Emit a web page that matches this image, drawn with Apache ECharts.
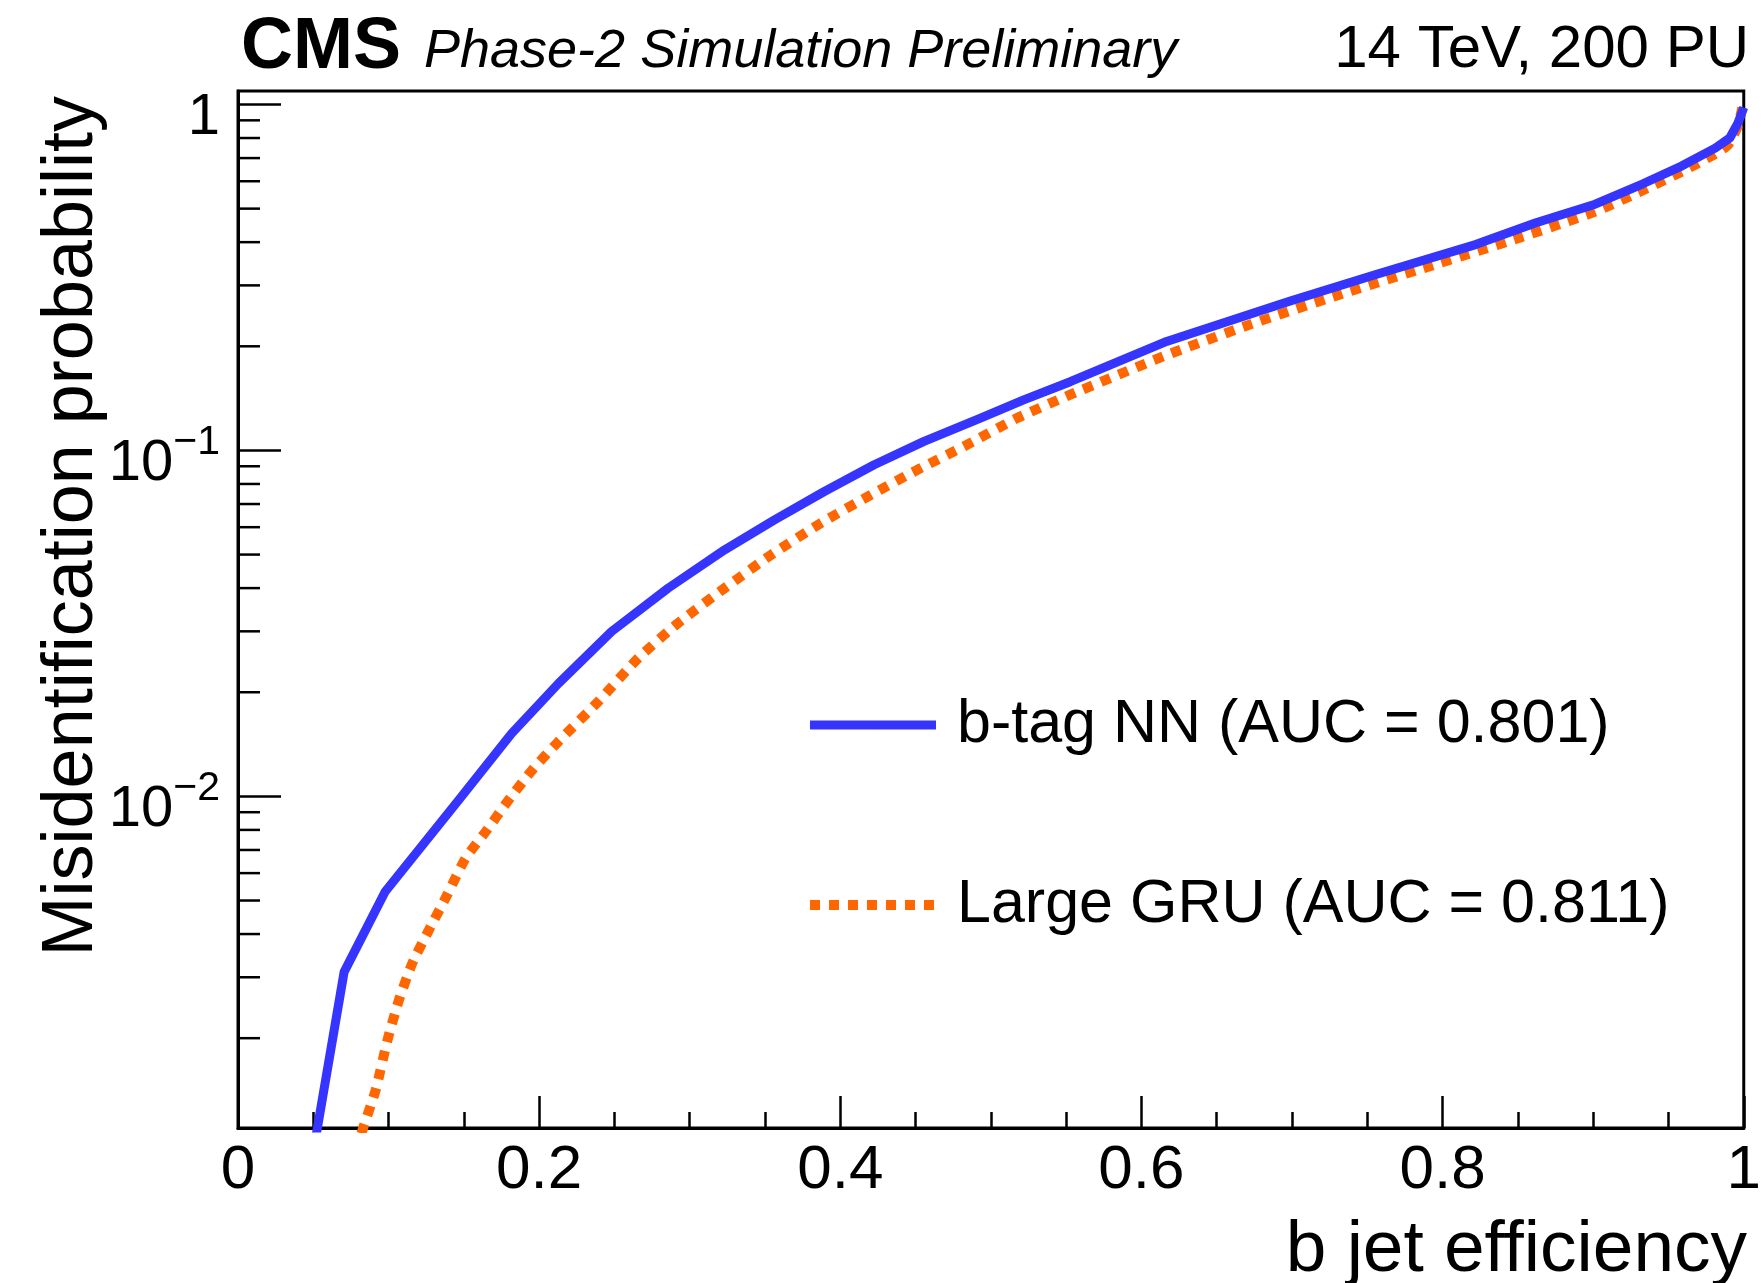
<!DOCTYPE html>
<html>
<head>
<meta charset="utf-8">
<script src="https://cdn.jsdelivr.net/npm/echarts@6/dist/echarts.min.js"></script>
<style>
html,body{margin:0;padding:0;background:#fff;}
#chart{width:1764px;height:1283px;}
</style>
</head>
<body>
<div id="chart"></div>
<script>
// ---- data ----
const effBlue = [0.045, 0.0705, 0.0977, 0.1466, 0.1817, 0.2128, 0.2481, 0.2857, 0.3232, 0.3563, 0.3894, 0.4225, 0.4556, 0.4931, 0.5218, 0.5527, 0.6167, 0.6983, 0.7557, 0.8219, 0.862, 0.9013, 0.933, 0.959, 0.981, 0.9907, 0.9962, 1.0];
const misidBlue = [0.0007, 0.00311, 0.0053, 0.00976, 0.0152, 0.0212, 0.02996, 0.040, 0.0516, 0.063, 0.0761, 0.0909, 0.1062, 0.124, 0.140, 0.158, 0.2066, 0.270, 0.3224, 0.3936, 0.455, 0.515, 0.59, 0.665, 0.748, 0.80, 0.885, 0.98];

const effGRU = [0.078, 0.0837, 0.0915, 0.0992, 0.1069, 0.1157, 0.1268, 0.1389, 0.1511, 0.1654, 0.1797, 0.196, 0.2128, 0.2393, 0.2658, 0.2923, 0.3232, 0.354, 0.3872, 0.4203, 0.4512, 0.4843, 0.5174, 0.5527, 0.6145, 0.6718, 0.7314, 0.791, 0.8506, 0.9013, 0.933, 0.959, 0.981, 0.9896, 0.996, 0.999];
const misidGRU = [0.00094, 0.00112, 0.00142, 0.00197, 0.00258, 0.00329, 0.00411, 0.00519, 0.00662, 0.008, 0.00976, 0.012, 0.0144, 0.0188, 0.0251, 0.0317, 0.040, 0.0499, 0.0617, 0.0744, 0.0879, 0.1039, 0.124, 0.1449, 0.187, 0.231, 0.282, 0.3405, 0.4114, 0.49, 0.565, 0.64, 0.72, 0.765, 0.866, 0.978];

const seriesNames = ['b-tag NN (AUC = 0.801)', 'Large GRU (AUC = 0.811)'];
const yMajorTicks = [0.01, 0.1, 1];
const yMinorTicks = [0.002, 0.003, 0.004, 0.005, 0.006, 0.007, 0.008, 0.009,
                     0.02, 0.03, 0.04, 0.05, 0.06, 0.07, 0.08, 0.09,
                     0.2, 0.3, 0.4, 0.5, 0.6, 0.7, 0.8, 0.9];
const xRange = [0, 1];
const yRange = [0.0011, 1.094];
const headerLeft = 'CMS';
const headerSub = 'Phase-2 Simulation Preliminary';
const headerRight = '14 TeV, 200 PU';
const xTitle = 'b jet efficiency';
const yTitle = 'Misidentification probability';

// ---- chart ----
const FONT = '"Liberation Sans", Arial, Helvetica, sans-serif';
const chart = echarts.init(document.getElementById('chart'), null, {renderer: 'canvas'});

const zip = (a, b) => a.map((v, i) => [v, b[i]]);
const yTickData = yMajorTicks.concat(yMinorTicks).map(v => [xRange[0], v]);

function isPow10(v) {
  const l = Math.log10(v);
  return Math.abs(l - Math.round(l)) < 1e-6;
}

const option = {
  backgroundColor: '#ffffff',
  animation: false,
  grid: {
    left: 238, top: 91, width: 1511, height: 1037,
    show: true, borderColor: '#000', borderWidth: 3, backgroundColor: 'transparent'
  },
  xAxis: {
    type: 'value', min: xRange[0], max: xRange[1], interval: 0.2,
    axisLine: {show: true, lineStyle: {color: '#000', width: 3}},
    axisTick: {show: true, inside: true, length: 32, lineStyle: {color: '#000', width: 2.5}},
    minorTick: {show: true, splitNumber: 4, length: 16, lineStyle: {color: '#000', width: 2.5}},
    splitLine: {show: false},
    axisLabel: {
      margin: 12, color: '#000', fontFamily: FONT, fontSize: 62,
      formatter: v => (Math.abs(v) < 1e-9 ? '0' : (Math.abs(v - 1) < 1e-9 ? '1' : String(+v.toFixed(1))))
    }
  },
  yAxis: {
    type: 'log', logBase: 10, min: yRange[0], max: yRange[1],
    axisLine: {show: true, lineStyle: {color: '#000', width: 3}},
    axisTick: {show: false},
    splitLine: {show: false},
    axisLabel: {
      margin: 18, color: '#000', fontFamily: FONT, padding: [28, 0, 0, 0],
      showMinLabel: false, showMaxLabel: false,
      formatter: function (v) {
        if (!isPow10(v)) return '';
        const e = Math.round(Math.log10(v));
        if (e === 0) return '{one|1}';
        return '{b|10}{s|\u2212' + Math.abs(e) + '}';
      },
      rich: {
        one: {fontFamily: FONT, fontSize: 58, lineHeight: 58, color: '#000', verticalAlign: 'bottom'},
        b: {fontFamily: FONT, fontSize: 58, lineHeight: 58, color: '#000', verticalAlign: 'bottom'},
        s: {fontFamily: FONT, fontSize: 41, lineHeight: 41, color: '#000', verticalAlign: 'bottom', padding: [0, 0, 30, 0]}
      }
    }
  },
  legend: {
    orient: 'vertical', left: 805, top: 693, itemGap: 116, padding: 0,
    itemWidth: 126, itemHeight: 10,
    data: seriesNames,
    selectedMode: false,
    lineStyle: {width: 'inherit', type: 'inherit'},
    textStyle: {fontFamily: FONT, fontSize: 61, lineHeight: 64, color: '#000', padding: [0, 0, 0, 16]}
  },
  graphic: [
    {type: 'text', silent: true, style: {text: headerLeft, x: 241, y: 48, font: 'bold 72px ' + FONT, fill: '#000', align: 'left', verticalAlign: 'middle'}},
    {type: 'text', silent: true, style: {text: headerSub, x: 424, y: 52, font: 'italic 54px ' + FONT, fill: '#000', align: 'left', verticalAlign: 'middle'}},
    {type: 'text', silent: true, style: {text: headerRight, x: 1749, y: 50, font: '60px ' + FONT, fill: '#000', align: 'right', verticalAlign: 'middle'}},
    {type: 'text', silent: true, style: {text: xTitle, x: 1747, y: 1251, font: '73px ' + FONT, fill: '#000', align: 'right', verticalAlign: 'middle'}},
    {type: 'text', silent: true, rotation: Math.PI / 2, x: 72, y: 96, style: {text: yTitle, x: 0, y: 0, font: '72px ' + FONT, fill: '#000', align: 'right', verticalAlign: 'middle'}}
  ],
  series: [
    {
      name: seriesNames[0], type: 'line', data: zip(effBlue, misidBlue),
      showSymbol: false, symbol: 'none', clip: true, z: 3,
      lineStyle: {color: '#3535FF', width: 9, join: 'round'},
      itemStyle: {color: '#3535FF'}
    },
    {
      name: seriesNames[1], type: 'line', data: zip(effGRU, misidGRU),
      showSymbol: false, symbol: 'none', clip: true, smooth: 0.2, z: 2,
      lineStyle: {color: '#FF6600', width: 10, type: [10, 9], cap: 'butt'},
      itemStyle: {color: '#FF6600'}
    },
    {
      name: 'yticks', type: 'custom', data: yTickData, clip: false, silent: true, z: 5,
      renderItem: function (params, api) {
        const v = api.value(1);
        const p = api.coord([api.value(0), v]);
        const len = isPow10(v) ? 43 : 22;
        return {type: 'line', shape: {x1: p[0], y1: p[1], x2: p[0] + len, y2: p[1]},
                style: {stroke: '#000', lineWidth: 2.5}};
      }
    }
  ]
};
chart.setOption(option);
</script>
</body>
</html>
